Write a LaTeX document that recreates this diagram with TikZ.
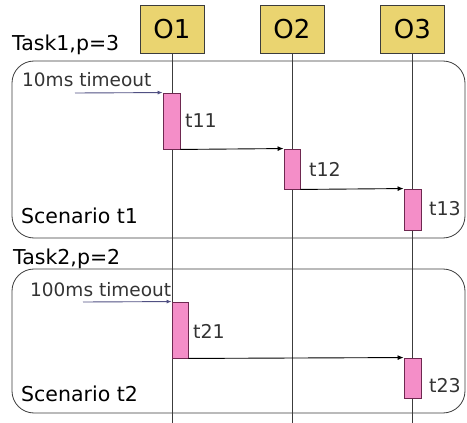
\documentclass[tikz,border=0pt]{standalone}
\usepackage{fontspec}
\setmainfont{DejaVu Sans}
\usetikzlibrary{arrows.meta}
\definecolor{objfill}{RGB}{234,212,112}
\definecolor{actfill}{RGB}{244,142,200}
\definecolor{actline}{RGB}{110,40,80}
\definecolor{lineg}{RGB}{60,60,60}
\definecolor{tmo}{RGB}{80,80,130}
\begin{document}
\begin{tikzpicture}[x=1pt,y=-1pt,
  obj/.style={draw=lineg,line width=1pt,fill=objfill,minimum width=64pt,minimum height=48pt,inner sep=0pt,
    font=\fontsize{26}{30}\selectfont},
  act/.style={draw=actline,line width=0.9pt,fill=actfill,inner sep=0pt},
  scen/.style={draw=lineg,line width=0.8pt,rounded corners=22pt,minimum width=453pt,inner sep=0pt},
  life/.style={draw=lineg,line width=0.9pt},
  msg/.style={draw=black,line width=0.9pt,-{Latex[length=6pt,width=5pt]}},
  tmoline/.style={draw=tmo,line width=0.9pt,-{Latex[length=5pt,width=4pt]}},
  lbl/.style={anchor=base west,inner sep=0pt,font=\fontsize{19}{22}\selectfont,text=black!80},
  tmolbl/.style={anchor=base west,inner sep=0pt,font=\fontsize{18.5}{22}\selectfont,text=black!80},
  head/.style={anchor=base west,inner sep=0pt,font=\fontsize{20.5}{24}\selectfont}]
\useasboundingbox (0,0) rectangle (467,423);

% objects
\node[obj] (o1) at (172,29) {O1};
\node[obj] (o2) at (292,29) {O2};
\node[obj] (o3) at (412.5,29) {O3};

% lifelines
\coordinate (l1) at (172,423);
\coordinate (l2) at (292,423);
\coordinate (l3) at (412.5,423);
\draw[life] (o1.south) -- (l1);
\draw[life] (o2.south) -- (l2);
\draw[life] (o3.south) -- (l3);

% scenario frames
\node[scen,minimum height=177pt] (s1) at (238.5,149.5) {};
\node[scen,minimum height=144pt] (s2) at (238.5,341) {};

% task headers and scenario names
\node[head] (task1) at (12,50) {Task1,p=3};
\node[head] (task2) at (13,264) {Task2,p=2};
\node[head] (sc1) at (21,223) {Scenario t1};
\node[head] (sc2) at (21,401) {Scenario t2};

% activations
\node[act,minimum width=17pt,minimum height=56pt] (t11) at (171.5,121) {};
\node[act,minimum width=16pt,minimum height=40pt] (t12) at (292,169) {};
\node[act,minimum width=17pt,minimum height=41pt] (t13) at (412.5,209.5) {};
\node[act,minimum width=16pt,minimum height=56pt] (t21) at (180,330) {};
\node[act,minimum width=17pt,minimum height=40pt] (t23) at (412.5,378) {};

\node[lbl] (lt11) at (185,128) {t11};
\node[lbl] (lt12) at (309,176) {t12};
\node[lbl] (lt13) at (429,215) {t13};
\node[lbl] (lt21) at (193,338) {t21};
\node[lbl] (lt23) at (429,392) {t23};

% timeouts
\coordinate (to1) at (75,93);
\coordinate (to2) at (83,302);
\node[tmolbl] (tl1) at (22,86) {10ms timeout};
\node[tmolbl] (tl2) at (30,296) {100ms timeout};
\draw[tmoline] (to1) -- (t11.north west);
\draw[tmoline] (to2) -- (t21.north west);

% messages
\draw[msg] (t11.south east) -- (t12.north west);
\draw[msg] (t12.south east) -- (t13.north west);
\draw[msg] (t21.south east) -- (t23.north west);
\end{tikzpicture}
\end{document}
